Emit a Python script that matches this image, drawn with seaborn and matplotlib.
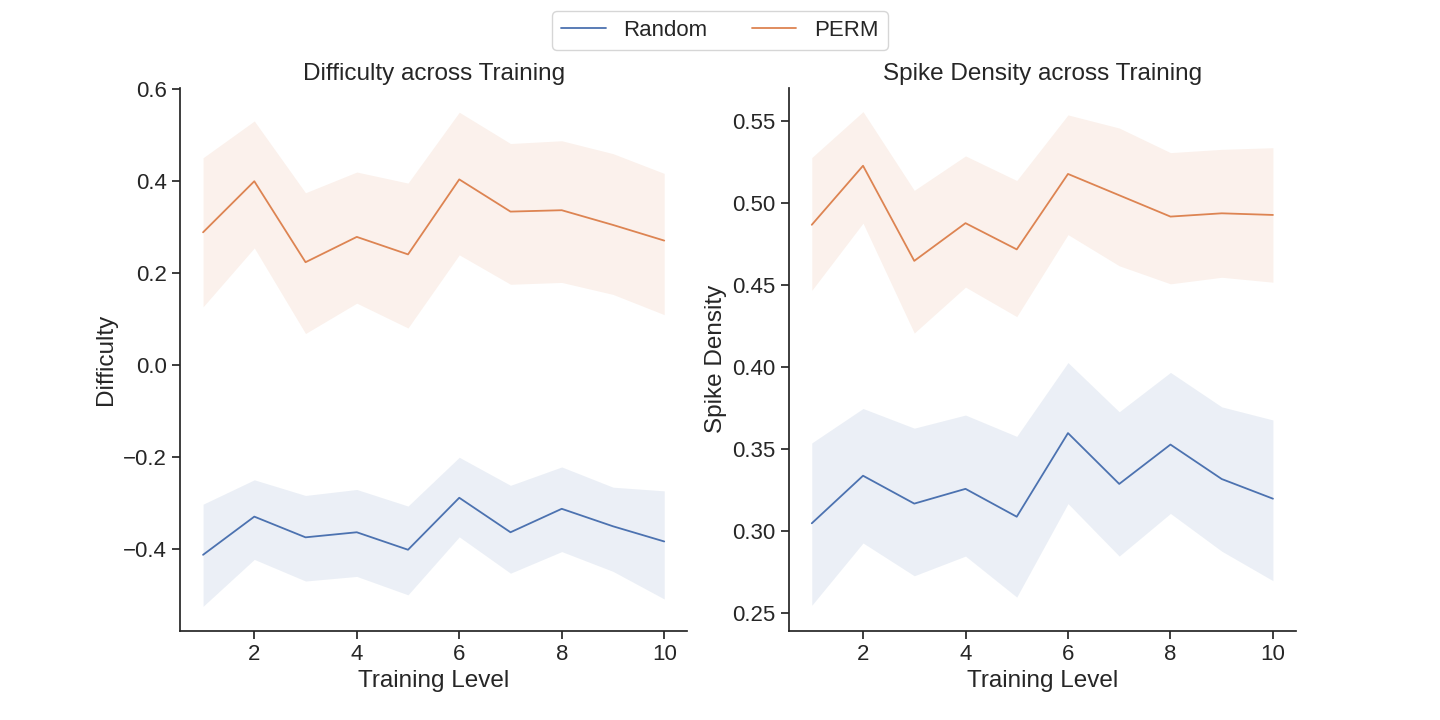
import numpy as np
import pandas as pd
import matplotlib
matplotlib.use("Agg")
import matplotlib.pyplot as plt
import seaborn as sns

# Training levels
levels = [1, 2, 3, 4, 5, 6, 7, 8, 9, 10]

# Difficulty: means and band edges
diff_random = [-0.413, -0.330, -0.375, -0.364, -0.402, -0.289, -0.364, -0.313, -0.351, -0.384]
diff_random_lo = [-0.525, -0.423, -0.470, -0.460, -0.500, -0.374, -0.453, -0.406, -0.449, -0.509]
diff_random_hi = [-0.303, -0.250, -0.284, -0.271, -0.307, -0.201, -0.262, -0.222, -0.266, -0.274]
diff_perm = [0.288, 0.399, 0.223, 0.278, 0.240, 0.403, 0.333, 0.336, 0.304, 0.270]
diff_perm_lo = [0.126, 0.254, 0.068, 0.134, 0.080, 0.239, 0.175, 0.179, 0.153, 0.109]
diff_perm_hi = [0.450, 0.530, 0.374, 0.419, 0.395, 0.549, 0.481, 0.487, 0.459, 0.416]

# Spike density: means and band edges
spike_random = [0.305, 0.334, 0.317, 0.326, 0.309, 0.360, 0.329, 0.353, 0.332, 0.320]
spike_random_lo = [0.255, 0.293, 0.273, 0.285, 0.260, 0.317, 0.285, 0.311, 0.288, 0.270]
spike_random_hi = [0.354, 0.375, 0.363, 0.371, 0.358, 0.403, 0.373, 0.397, 0.376, 0.368]
spike_perm = [0.487, 0.523, 0.465, 0.488, 0.472, 0.518, 0.505, 0.492, 0.494, 0.493]
spike_perm_lo = [0.447, 0.488, 0.421, 0.449, 0.431, 0.481, 0.462, 0.451, 0.455, 0.452]
spike_perm_hi = [0.528, 0.556, 0.508, 0.529, 0.514, 0.554, 0.546, 0.531, 0.533, 0.534]

methods = ["Random", "PERM"]

sns.set_theme(style="ticks")
plt.rcParams['font.family'] = ['Arial', 'Liberation Sans', 'DejaVu Sans']


def make_df(rand, rand_lo, rand_hi, perm, perm_lo, perm_hi):
    frames = []
    for name, m, lo, hi in [("Random", rand, rand_lo, rand_hi), ("PERM", perm, perm_lo, perm_hi)]:
        frames.append(pd.DataFrame({"level": levels, "value": m, "lo": lo, "hi": hi, "method": name}))
    return pd.concat(frames, ignore_index=True)


df_diff = make_df(diff_random, diff_random_lo, diff_random_hi, diff_perm, diff_perm_lo, diff_perm_hi)
df_spike = make_df(spike_random, spike_random_lo, spike_random_hi, spike_perm, spike_perm_lo, spike_perm_hi)

palette = dict(zip(methods, sns.color_palette("deep", 2)))

fig, axes = plt.subplots(1, 2, figsize=(14.4, 7.2), dpi=100)
fig.subplots_adjust(left=0.125, right=0.9, bottom=0.124, top=0.878, wspace=0.2)

panels = [
    (axes[0], df_diff, "Difficulty", "Difficulty across Training"),
    (axes[1], df_spike, "Spike Density", "Spike Density across Training"),
]

for ax, df, ylabel, title in panels:
    sns.lineplot(data=df, x="level", y="value", hue="method", hue_order=methods,
                 palette=palette, ax=ax, linewidth=1.3, legend=False)
    for name in methods:
        sub = df[df["method"] == name]
        ax.fill_between(sub["level"], sub["lo"], sub["hi"], color=palette[name],
                        alpha=0.11, linewidth=0)
    ax.set_xlabel("Training Level", fontsize=17.5)
    ax.set_ylabel(ylabel, fontsize=17.5)
    ax.set_title(title, fontsize=17.5)
    ax.tick_params(labelsize=16)
    ax.set_xticks([2, 4, 6, 8, 10])
    sns.despine(ax=ax)

axes[0].set_yticks([-0.4, -0.2, 0.0, 0.2, 0.4, 0.6])
axes[0].set_ylim(-0.578, 0.602)
axes[1].set_yticks([0.25, 0.30, 0.35, 0.40, 0.45, 0.50, 0.55])
axes[1].set_ylim(0.2395, 0.5705)

handles = [plt.Line2D([], [], color=palette[m], linewidth=1.3) for m in methods]
fig.legend(handles, methods, loc="upper center", ncol=2, fontsize=16,
           bbox_to_anchor=(0.5, 1.0), frameon=True)

fig.savefig("out.png", dpi=100)
